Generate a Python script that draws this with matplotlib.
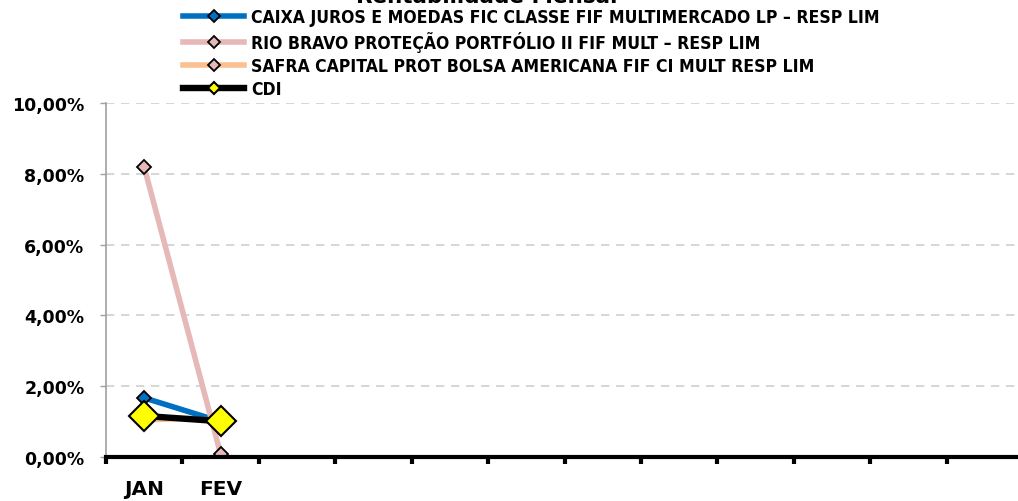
import matplotlib
matplotlib.use("Agg")
import matplotlib.pyplot as plt
from matplotlib.ticker import FuncFormatter

plt.rcParams['font.family'] = ['DejaVu Sans']

months = ["JAN", "FEV", "MAR", "ABR", "MAI", "JUN", "JUL", "AGO", "SET", "OUT", "NOV", "DEZ"]
month_labels = ["JAN", "FEV", "", "", "", "", "", "", "", "", "", ""]
series_names = [
    "CAIXA JUROS E MOEDAS FIC CLASSE FIF MULTIMERCADO LP – RESP LIM",
    "RIO BRAVO PROTEÇÃO PORTFÓLIO II FIF MULT – RESP LIM",
    "SAFRA CAPITAL PROT BOLSA AMERICANA FIF CI MULT RESP LIM",
    "CDI",
]
caixa = [1.67, 1.00]
rio = [8.19, 0.08]
safra = [1.05, 1.12]
cdi = [1.16, 1.01]
yticks = [0, 2, 4, 6, 8, 10]

W, H = 1018, 502
fig = plt.figure(figsize=(W / 100, H / 100), dpi=100)
x0, x1 = 106, 1023
y0, y1 = 458, 104
ax = fig.add_axes([x0 / W, 1 - y0 / H, (x1 - x0) / W, (y0 - y1) / H])

xs = list(range(len(months)))
ax.set_xlim(-0.5, len(months) - 0.5)
ax.set_ylim(0, 10)

ax.plot(xs[:len(caixa)], caixa, color="#0070C0", lw=4, marker="D", ms=7,
        mfc="#0070C0", mec="black", mew=1.3, label=series_names[0], zorder=3)
ax.plot(xs[:len(rio)], rio, color="#E6B9B8", lw=4, marker="D", ms=7,
        mfc="#E6B9B8", mec="black", mew=1.3, label=series_names[1], zorder=4)
ax.plot(xs[:len(safra)], safra, color="#FAC090", lw=4, marker="D", ms=7,
        mfc="#E6B9B8", mec="black", mew=1.3, label=series_names[2], zorder=2)
ax.plot(xs[:len(cdi)], cdi, color="black", lw=4.6, marker="D", ms=15,
        mfc="#FFFF00", mec="black", mew=1.5, label=series_names[3], zorder=5)

ax.set_yticks(yticks)
ax.yaxis.set_major_formatter(FuncFormatter(lambda v, p: f"{v:.2f}%".replace(".", ",")))
ax.grid(axis="y", color="#D0D0D0", ls=(0, (5, 4)), lw=1.2)
ax.set_axisbelow(True)

ax.set_xticks([i - 0.5 for i in range(len(months))])
ax.set_xticklabels([])
ax.set_xticks(xs, minor=True)
ax.set_xticklabels(month_labels, minor=True)
ax.tick_params(axis="x", which="minor", length=0, pad=16, labelsize=14.5)
ax.tick_params(axis="x", which="major", length=5, width=3, color="black", direction="out")
for t in ax.get_xticklabels(minor=True):
    t.set_fontweight("bold")
ax.tick_params(axis="y", length=4.5, width=1, color="#A0A0A0", labelsize=12.5, pad=11)
for t in ax.get_yticklabels():
    t.set_fontweight("bold")

for s in ["top", "right"]:
    ax.spines[s].set_visible(False)
ax.spines["left"].set_color("#A0A0A0")
ax.spines["left"].set_linewidth(1.2)
ax.spines["bottom"].set_color("black")
ax.spines["bottom"].set_linewidth(3)
ax.spines["bottom"].set_zorder(6)

fig.text(487 / W, 1 - 3 / H, "Rentabilidade Mensal", ha="center", va="baseline",
         fontsize=15.5, fontweight="bold")

leg = fig.legend(loc="upper left", bbox_to_anchor=(176 / W, 1 - 2 / H), frameon=False,
                 prop={"family": "DejaVu Sans", "stretch": "condensed", "weight": "bold", "size": 12.6},
                 handlelength=3.5, labelspacing=0.29, handletextpad=0.4, borderaxespad=0)
for h in leg.legend_handles:
    h.set_markersize(6.5)

fig.savefig("out.png", dpi=100)
